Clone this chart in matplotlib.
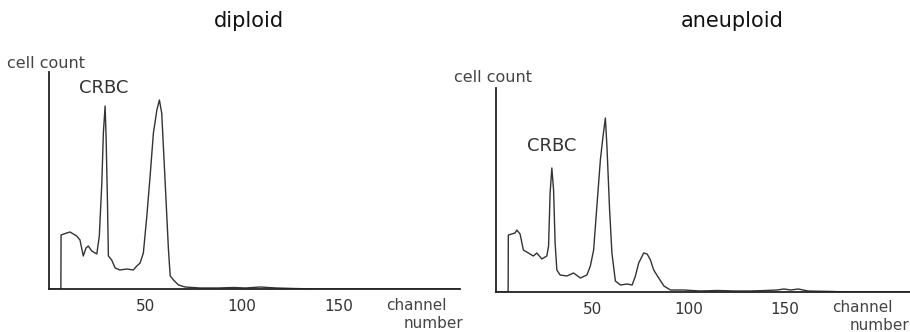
import matplotlib.pyplot as plt

# diploid histogram (channel, cell count)
dip_ch = [0, 6.4, 6.5, 9.4, 11.1, 14.6, 16.3, 18.0, 19.4, 20.6, 22.4, 25.0, 26.3,
          27.6, 28.4, 29.3, 29.8, 30.5, 31.0, 32.7, 34.5, 37.0, 40.5, 43.9, 45.7,
          47.4, 49.1, 50.9, 52.6, 54.3, 56.1, 57.4, 58.6, 60.4, 62.1, 63.0, 64.7,
          67.3, 70.7, 78.5, 88, 95.7, 102, 109.6, 118, 127, 139, 213]
dip_cnt = [0, 0, 54, 56, 57, 53, 49, 33, 41, 43, 38, 35, 53,
           106, 156, 183, 153, 89, 33, 29, 21, 19, 20, 19, 23,
           26, 36, 73, 113, 156, 179, 189, 176, 106, 39, 13, 9,
           4, 2, 1, 1, 1.5, 1, 2, 1, 0.5, 0, 0]

# aneuploid histogram
ane_ch = [0, 6.3, 6.4, 9.9, 10.8, 12.5, 14.2, 16.8, 19.4, 21.2, 23.8, 26.4, 27.3,
          28.1, 29.0, 29.9, 30.7, 31.6, 33.3, 36.8, 40.3, 43.8, 47.2, 49.0, 50.7,
          52.4, 54.2, 55.6, 56.8, 57.6, 59.0, 60.2, 62.0, 64.6, 68.1, 70.7, 72.4,
          74.1, 76.7, 78.5, 80.2, 81.9, 84.5, 87.2, 90.6, 97.6, 106, 115, 124,
          132, 140, 146, 149.6, 153, 157, 162, 175, 184, 215]
ane_cnt = [0, 0, 57, 59, 62, 58, 42, 39, 36, 39, 33, 36, 46,
           99, 124, 102, 49, 22, 17, 16, 19, 14, 17, 26, 42,
           86, 132, 156, 174, 146, 82, 39, 11, 7, 8, 7, 16,
           29, 39, 38, 32, 22, 14, 6, 2, 2, 1, 1.5, 1,
           1, 1.5, 2, 3, 2, 3, 1, 0.5, 0, 0]

ticks = [50, 100, 150]
line_col = '#333333'

fig = plt.figure(figsize=(9.1, 3.32), dpi=100)

panels = [
    # rect, xmax, ymax, data, title, title x, cell-count pos, CRBC pos, channel pos
    ([48.5 / 910, 43 / 332, 411.5 / 910, 217 / 332], 213, 217,
     dip_ch, dip_cnt, 'diploid', 249, (7, 64), (79, 88), (386, 306)),
    ([496 / 910, 40 / 332, 414 / 910, 204 / 332], 215, 204,
     ane_ch, ane_cnt, 'aneuploid', 732, (454, 78), (527, 146), (832, 308)),
]

for rect, xmax, ymax, xs, ys, title, tx, cc, crbc, chn in panels:
    ax = fig.add_axes(rect)
    ax.plot(xs, ys, color=line_col, lw=1.0)
    ax.set_xlim(0, xmax)
    ax.set_ylim(0, ymax)
    for s in ['top', 'right']:
        ax.spines[s].set_visible(False)
    for s in ['left', 'bottom']:
        ax.spines[s].set_linewidth(1.3)
        ax.spines[s].set_color('#222222')
    ax.set_xticks(ticks)
    ax.set_xticklabels([str(t) for t in ticks], fontsize=11, color='#333333')
    ax.tick_params(axis='x', length=0, pad=7)
    ax.set_yticks([])

    fig.text(tx / 910, 1 - 21 / 332, title, ha='center', va='center',
             fontsize=15, color='#111111')
    fig.text(cc[0] / 910, 1 - cc[1] / 332, 'cell count', ha='left', va='center',
             fontsize=11.5, color='#444444')
    fig.text(crbc[0] / 910, 1 - crbc[1] / 332, 'CRBC', ha='left', va='center',
             fontsize=13, color='#333333')
    fig.text(chn[0] / 910, 1 - chn[1] / 332, 'channel', ha='left', va='center',
             fontsize=11, color='#444444')
    fig.text((chn[0] + 18) / 910, 1 - (chn[1] + 17) / 332, 'number', ha='left',
             va='center', fontsize=11, color='#444444')

fig.savefig('out.png', dpi=100)
